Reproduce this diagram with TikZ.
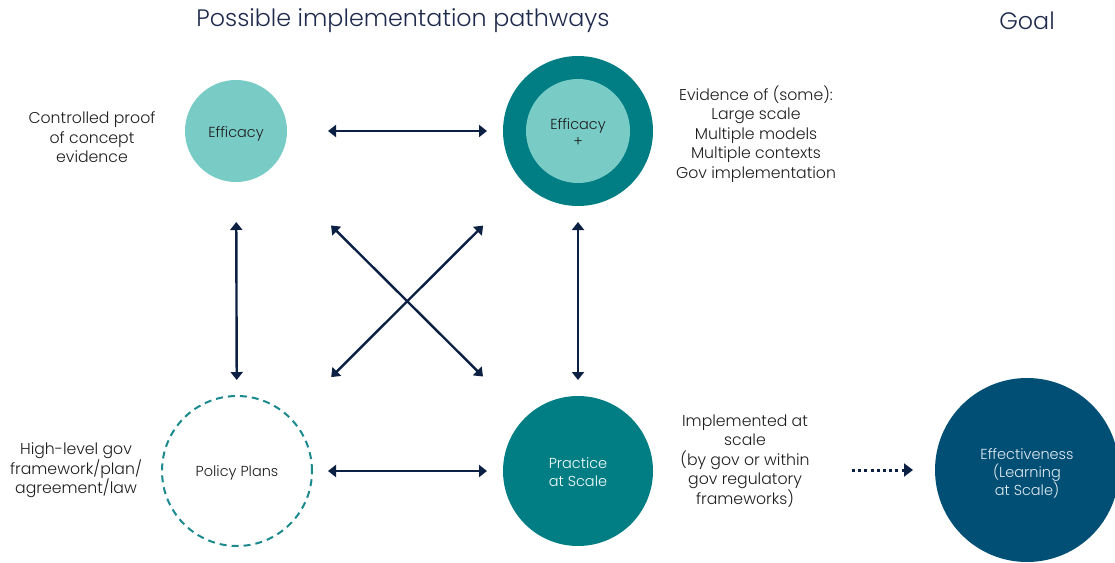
\documentclass[tikz,border=0pt]{standalone}
\usepackage{fontspec}
\setmainfont{Poppins Light}
\usetikzlibrary{arrows.meta}
\definecolor{lteal}{HTML}{79CBC6}
\definecolor{dteal}{HTML}{007E84}
\definecolor{dashteal}{HTML}{1B8A8E}
\definecolor{navy}{HTML}{0C2044}
\definecolor{effblue}{HTML}{024F76}
\definecolor{txt}{HTML}{1E1E1E}
\definecolor{ttl}{HTML}{1F2B4D}
\begin{document}
\begin{tikzpicture}[x=1pt,y=-1pt,
  circ/.style={circle,inner sep=0pt,outer sep=0pt,align=center,text=txt,font=\fontsize{14.5}{17}\selectfont},
  lbl/.style={align=center,text=txt,font=\fontsize{15.7}{19.5}\selectfont,inner sep=0pt},
  ttlstyle/.style={text=ttl,font=\fontsize{23.8}{26}\selectfont,inner sep=0pt},
  biarrow/.style={draw=navy,line width=2.4pt,{Triangle[length=8pt,width=12pt]}-{Triangle[length=8pt,width=12pt]}},
  dotarrow/.style={draw=navy,line width=3pt,dash pattern=on 3pt off 3.2pt,-{Triangle[length=9pt,width=13pt]}}
]
\useasboundingbox (0,0) rectangle (1115,562);

% titles
\node[ttlstyle] (title) at (403,21) {Possible implementation pathways};
\node[ttlstyle] (goal) at (1027,21) {Goal};

% circles
\node[circ,fill=lteal,minimum size=102pt] (eff) at (236,131) {};
\node[circ] (efft) at (236,133.5) {Efficacy};
\node[circ,fill=dteal,minimum size=150pt] (effp) at (578,131) {};
\node[circ,fill=lteal,minimum size=104pt] (effpin) at (578,131) {};
\node[circ] (effpt) at (578,132.5) {Efficacy\\+};
\node[circ,draw=dashteal,line width=2pt,dash pattern=on 7pt off 5pt,minimum size=150pt] (pol) at (237,471) {};
\node[circ] (polt) at (237,473) {Policy Plans};
\node[circ,fill=dteal,minimum size=150pt] (prac) at (578,471) {};
\node[circ,text=white!92!lteal,font=\fontsize{14.5}{18}\selectfont] (pract) at (578,472) {Practice\\at Scale};
\node[circ,fill=effblue,minimum size=184pt] (effect) at (1027,470) {};
\node[circ,text=white!88!effblue,font=\fontsize{14.5}{18}\selectfont] (effectt) at (1027,473.5) {Effectiveness\\(Learning\\at Scale)};

% side labels
\node[lbl] (l1) at (92,137.5) {Controlled proof\\of concept\\evidence};
\node[lbl] (l2) at (756,134) {Evidence of (some):\\Large scale\\Multiple models\\Multiple contexts\\Gov implementation};
\node[lbl] (l3) at (76,470.5) {High-level gov\\framework/plan/\\agreement/law};
\node[lbl] (l4) at (745,461) {Implemented at\\scale\\(by gov or within\\gov regulatory\\frameworks)};

% connectors
\draw[biarrow,shorten <=41pt,shorten >=16pt] (eff) -- (effp);
\draw[biarrow,shorten <=16pt,shorten >=16pt] (pol) -- (prac);
\draw[biarrow,shorten <=40pt,shorten >=16pt] (eff) -- (pol);
\draw[biarrow,shorten <=16pt,shorten >=16pt] (effp) -- (prac);
\draw[biarrow,shorten <=83pt,shorten >=59pt] (eff) -- (prac);
\draw[biarrow,shorten <=59pt,shorten >=58pt] (effp) -- (pol);

\coordinate (d1) at (852,470);
\coordinate (d2) at (913,470);
\draw[dotarrow] (d1) -- (d2);
\end{tikzpicture}
\end{document}
